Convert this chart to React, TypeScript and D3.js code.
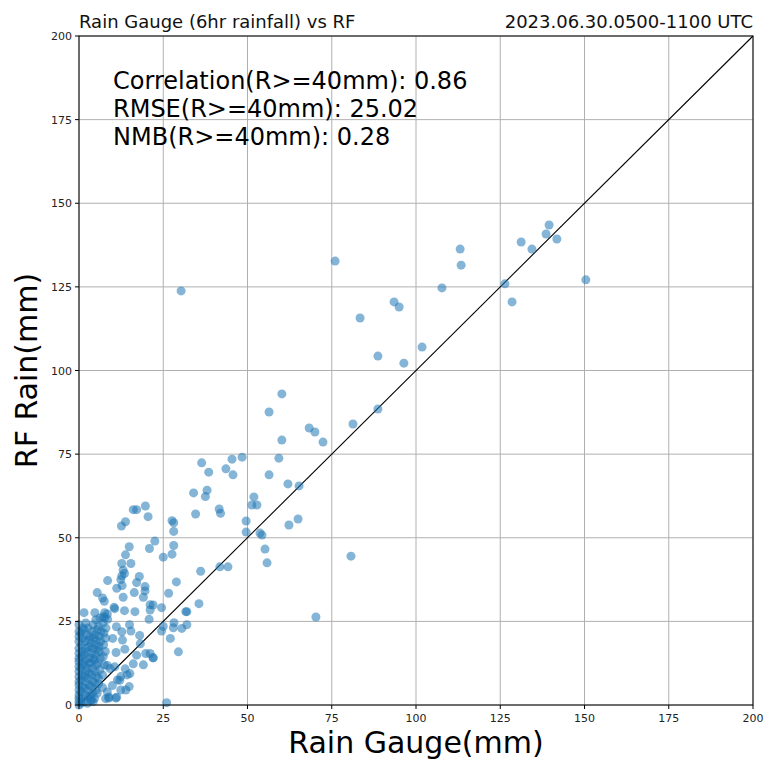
import React from "react";
import * as d3 from "d3";

// Gauge (x) and RF (y) rainfall pairs, mm
const gaugeMm: number[] = [
  // upper range
  30.3, 76.0, 83.4, 93.5, 95.0, 107.7, 88.7, 96.4, 101.8, 113.1, 113.4, 126.4, 128.5, 131.2, 134.4, 138.6, 139.5, 141.8, 150.4,
  88.7, 81.3, 80.7, 70.3, 60.2, 56.4, 60.2, 59.3, 56.4, 62.0, 65.3, 68.3, 70.0, 72.4, 65.0, 62.3,
  48.4, 45.4, 43.6, 45.7, 51.9, 51.3, 52.8, 49.6, 49.6, 53.7, 54.3, 55.2, 55.8, 44.2, 41.8,
  // middle range
  36.4, 38.5, 34.0, 38.0, 37.5, 34.6, 41.6, 42.0, 27.6, 28.1, 28.1, 22.5, 28.1, 27.6, 25.0, 36.1, 28.9, 26.6, 35.6,
  31.7, 32.0, 22.0, 24.5, 28.2, 32.0, 28.0, 25.0, 20.9, 20.5, 21.1, 21.1, 30.5, 24.5, 20.8, 27.1, 21.1, 22.0, 29.5, 26.0,
  // low-middle range
  12.6, 13.8, 16.1, 17.1, 19.7, 14.9, 13.8, 12.7, 15.4, 13.1, 12.7, 13.5, 12.4, 17.9, 8.5, 17.1, 12.8, 11.2, 19.6, 19.6,
  19.1, 13.1, 16.4, 5.4, 7.0, 7.5, 10.4, 13.5, 16.6, 1.5, 4.7, 7.6, 8.4, 10.6, 7.2, 8.5,
  11.1, 12.7, 15.0, 15.4, 18.0, 10.0, 12.9, 18.2, 13.6, 11.0, 17.1, 19.8, 19.1, 16.1, 13.7, 10.6, 8.4, 9.2, 15.1, 12.1,
  9.9, 12.4, 14.9, 8.4, 7.9, 8.8, 10.9, 7.0, 5.8, 5.4, 3.3, 4.2, 3.7, 22.0, 14.3, 12.4, 11.4, 13.9, 8.9, 11.2,
  // dense cluster near the origin
  0, 0, 0, 0, 0, 0, 0, 0, 0, 0, 0, 0, 0, 0, 0, 0, 0, 0,
  0.5, 0.8, 0.6, 1, 0.7, 0.9, 0.6, 1, 0.8, 1, 0.7, 1, 0.5, 1.2,
  1.5, 1.8, 1.6, 2, 1.7, 2, 1.5, 1.9, 1.6, 2, 1.8, 2.2, 1.5, 2,
  2.5, 2.8, 2.6, 3, 2.7, 3, 2.5, 2.9, 3.1, 2.6, 3, 2.8, 3.2, 2.7,
  3.5, 4, 3.6, 4.1, 3.8, 4, 3.5, 4.2, 3.7, 4.1, 3.6, 4.3, 3.9, 4.2,
  4.6, 5, 4.7, 5.2, 4.8, 5.1, 4.6, 5, 5.3, 4.8, 5.2, 4.7, 5.4, 5,
  5.8, 6.2, 5.7, 6.3, 6, 5.9, 6.4, 6, 6.5, 5.8, 6.2,
  7, 7.5, 7.2, 7.8, 7.3, 7.9, 7.4, 8, 7.1, 7.6,
];

const rfMm: number[] = [
  // upper range
  123.8, 132.7, 115.7, 120.5, 119.0, 124.7, 104.3, 102.2, 107.0, 136.3, 131.5, 125.9, 120.5, 138.4, 136.3, 140.8, 143.5, 139.3, 127.1,
  88.5, 84.0, 44.5, 26.3, 93.0, 87.6, 79.2, 73.8, 68.8, 66.1, 65.5, 82.8, 81.6, 78.6, 55.6, 53.8,
  74.1, 73.5, 70.6, 68.8, 62.2, 59.8, 59.8, 55.0, 51.7, 51.4, 50.8, 46.6, 42.5, 41.3, 41.3,
  // middle range
  72.4, 69.6, 63.4, 64.2, 62.3, 57.1, 58.6, 57.3, 55.1, 54.5, 51.9, 49.0, 47.7, 45.1, 44.2, 40.0, 36.8, 33.4, 30.3,
  27.9, 27.9, 29.9, 29.1, 24.6, 24.0, 23.1, 23.5, 46.8, 56.3, 30.0, 28.4, 22.9, 22.1, 25.6, 19.9, 15.4, 14.1, 15.9, 0.7,
  // low-middle range
  53.5, 54.8, 58.4, 58.4, 59.5, 47.3, 44.9, 42.3, 42.3, 40.3, 38.6, 39.3, 37.5, 38.4, 37.2, 36.6, 35.7, 34.9, 35.4, 34.1,
  32.2, 32.2, 33.6, 33.6, 32.0, 31.0, 29.2, 28.2, 27.9, 27.6, 27.6, 27.6, 27.2, 28.8, 26.4, 25.6,
  23.4, 21.9, 24.0, 22.1, 20.8, 19.9, 19.4, 18.3, 16.7, 15.7, 14.9, 15.4, 12.0, 12.3, 10.8, 11.4, 11.8, 10.9, 9.4, 7.4,
  5.8, 4.5, 5.5, 3.9, 1.9, 2.1, 2.1, 5.2, 6.3, 3.5, 2.7, 1.0, 1.5, 14.1, 9.0, 8.5, 7.5, 4.5, 2.3, 2.3,
  // dense cluster near the origin
  0, 1, 2, 3, 4.5, 6, 7, 8.5, 10, 11.5, 13, 14, 15.5, 17, 19, 20.5, 22, 24,
  0.5, 2, 4, 5.5, 7.5, 9, 11, 12.5, 14.5, 16, 18, 20, 21.5, 23,
  1, 3, 5, 7, 8.5, 10, 12, 13.5, 15, 17, 19, 21, 22.5, 24.5,
  0.5, 2.5, 4.5, 6, 8, 9.5, 11, 12.5, 14, 16, 17.5, 19.5, 20.5, 23,
  1.5, 3.5, 5.5, 7, 9, 11, 12.5, 14, 15.5, 17, 18.5, 20, 22, 24,
  2, 4.5, 6.5, 8.5, 10, 12, 13.5, 15, 16.5, 18, 19.5, 21, 22.5, 25.5,
  8, 10.5, 12.5, 14, 16, 17.5, 19, 20.5, 22, 23.5, 26,
  9, 12, 14.5, 16, 18, 20, 21.5, 23, 24.5, 26,
];

const tickValues: number[] = [0, 25, 50, 75, 100, 125, 150, 175, 200];

const titleLeft = "Rain Gauge (6hr rainfall) vs RF";
const titleRight = "2023.06.30.0500-1100 UTC";
const statLines: string[] = [
  "Correlation(R>=40mm): 0.86",
  "RMSE(R>=40mm): 25.02",
  "NMB(R>=40mm): 0.28",
];
const xLabel = "Rain Gauge(mm)";
const yLabel = "RF Rain(mm)";

const W = 770;
const H = 763;
const left = 79;
const right = 753;
const top = 36;
const bottom = 705;
const font = "'DejaVu Sans', sans-serif";

export default function App() {
  const x = d3.scaleLinear().domain([0, 200]).range([left, right]);
  const y = d3.scaleLinear().domain([0, 200]).range([bottom, top]);
  const points = gaugeMm.map((g, i) => ({ g, r: rfMm[i] }));

  return (
    <svg
      width={W}
      height={H}
      style={{ position: "absolute", left: 0, top: 0, background: "#fff" }}
      fontFamily={font}
    >
      <rect x={0} y={0} width={W} height={H} fill="#fff" />
      {/* grid */}
      {tickValues.map((t) => (
        <g key={"g" + t}>
          <line x1={x(t)} x2={x(t)} y1={top} y2={bottom} stroke="#b0b0b0" strokeWidth={1} />
          <line x1={left} x2={right} y1={y(t)} y2={y(t)} stroke="#b0b0b0" strokeWidth={1} />
        </g>
      ))}
      {/* 1:1 reference line */}
      <line x1={x(0)} y1={y(0)} x2={x(200)} y2={y(200)} stroke="#000" strokeWidth={1.1} />
      {/* scatter */}
      {points.map((p, i) => (
        <circle
          key={i}
          cx={x(p.g)}
          cy={y(p.r)}
          r={4.5}
          fill="#1f77b4"
          fillOpacity={0.55}
        />
      ))}
      {/* frame */}
      <rect x={left} y={top} width={right - left} height={bottom - top} fill="none" stroke="#000" strokeWidth={1} />
      {/* ticks */}
      {tickValues.map((t) => (
        <g key={"t" + t} fontSize={11} fill="#222">
          <line x1={x(t)} x2={x(t)} y1={bottom} y2={bottom + 4} stroke="#000" />
          <text x={x(t)} y={bottom + 17} textAnchor="middle">{t}</text>
          <line x1={left - 4} x2={left} y1={y(t)} y2={y(t)} stroke="#000" />
          <text x={left - 7} y={y(t) + 4} textAnchor="end">{t}</text>
        </g>
      ))}
      {/* titles */}
      <text x={left} y={28} fontSize={18} fill="#111">{titleLeft}</text>
      <text x={right} y={28} fontSize={18} fill="#111" textAnchor="end">{titleRight}</text>
      {statLines.map((s, i) => (
        <text key={s} x={113} y={89 + i * 28} fontSize={24} fill="#000">{s}</text>
      ))}
      <text x={(left + right) / 2} y={753} fontSize={30} textAnchor="middle" fill="#000">{xLabel}</text>
      <text
        transform={`translate(37, ${(top + bottom) / 2}) rotate(-90)`}
        fontSize={30}
        textAnchor="middle"
        fill="#000"
      >
        {yLabel}
      </text>
    </svg>
  );
}
